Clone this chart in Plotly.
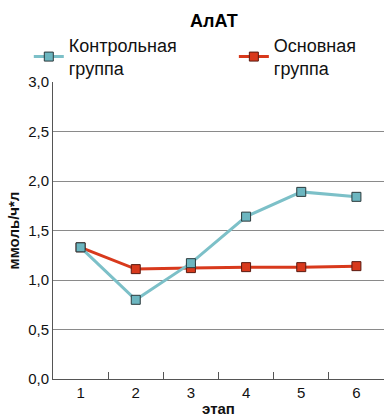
import plotly.graph_objects as go

stages = ["1", "2", "3", "4", "5", "6"]
control = [1.33, 0.80, 1.17, 1.64, 1.89, 1.84]
main_group = [1.33, 1.11, 1.12, 1.13, 1.13, 1.14]
y_ticks = [0, 0.5, 1.0, 1.5, 2.0, 2.5, 3.0]
y_labels = ["0,0", "0,5", "1,0", "1,5", "2,0", "2,5", "3,0"]

font = "Liberation Sans, Arial, sans-serif"

fig = go.Figure()
fig.add_trace(go.Scatter(
    x=stages, y=main_group, mode="lines+markers",
    name="Основная<br>группа", legend="legend2",
    line=dict(color="#d8391c", width=3),
    marker=dict(symbol="square", size=9, color="#d8391c",
                line=dict(color="#5a1a10", width=1)),
))
fig.add_trace(go.Scatter(
    x=stages, y=control, mode="lines+markers",
    name="Контрольная<br>группа", legend="legend",
    line=dict(color="#7cc0c8", width=3),
    marker=dict(symbol="square", size=9, color="#6cb6c0",
                line=dict(color="#2b3a3c", width=1)),
))

legend_style = dict(orientation="h", yanchor="top", xanchor="left",
                    xref="container", yref="container",
                    bgcolor="rgba(0,0,0,0)", itemwidth=30,
                    font=dict(size=18, color="#111"))

fig.update_layout(
    width=384, height=417,
    margin=dict(l=53, r=0, t=82, b=38, autoexpand=False),
    paper_bgcolor="white", plot_bgcolor="white",
    font=dict(family=font, size=15, color="#111"),
    title=dict(text="<b>АлАТ</b>", x=0.557, xanchor="center", y=0.95,
               yanchor="middle", font=dict(size=18, color="#000")),
    legend=dict(x=0.075, y=0.936, **legend_style),
    legend2=dict(x=0.609, y=0.936, **legend_style),
    showlegend=True,
)
fig.update_xaxes(
    type="category", range=[-0.5, 5.5],
    showline=True, linecolor="#555", linewidth=1,
    ticks="inside", tickson="boundaries", ticklen=7, tickcolor="#555",
    showgrid=False, automargin=False,
    title=dict(text="<b>этап</b>", font=dict(size=15), standoff=10),
)
fig.update_yaxes(
    range=[0, 3.0], tickvals=y_ticks, ticktext=y_labels,
    showline=True, linecolor="#555", linewidth=1,
    showgrid=True, gridcolor="#8a8a8a", gridwidth=1,
    ticks="", zeroline=False, automargin=False,
    title=dict(text="<b>ммоль/ч*л</b>", font=dict(size=15), standoff=4),
)

fig.write_html("out.html")
